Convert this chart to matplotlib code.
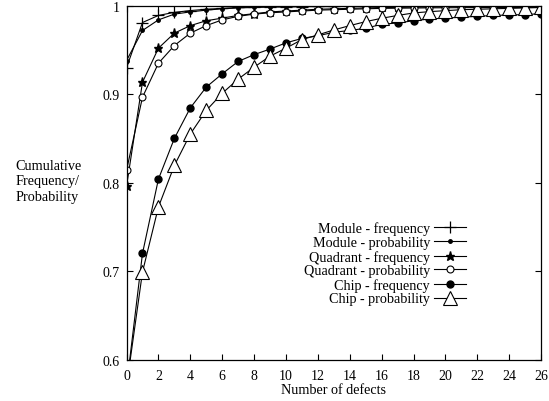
import numpy as np
import matplotlib
matplotlib.use("Agg")
import matplotlib.pyplot as plt

plt.rcParams['font.family'] = ['Liberation Serif', 'DejaVu Serif']

# ---- data ----
defects = list(range(27))

module_freq = [0.930, 0.981, 0.989, 0.9925, 0.9945, 0.996, 0.997, 0.998, 0.9985,
               0.999, 0.999, 0.999, 0.9992, 0.9993, 0.9994, 0.9995, 0.9995, 0.9996,
               0.9996, 0.9997, 0.9997, 0.9998, 0.9998, 0.9998, 0.9999, 0.9999, 0.9999]
module_prob = [0.938, 0.972, 0.984, 0.9905, 0.993, 0.995, 0.9965, 0.9975, 0.998,
               0.9985, 0.9985, 0.999, 0.999, 0.999, 0.9992, 0.9993, 0.9994, 0.9994,
               0.9995, 0.9995, 0.9996, 0.9996, 0.9997, 0.9997, 0.9997, 0.9998, 0.9998]
quad_freq = [0.796, 0.9135, 0.952, 0.969, 0.9775, 0.983, 0.986, 0.989, 0.991,
             0.993, 0.994, 0.995, 0.996, 0.9965, 0.997, 0.9975, 0.998, 0.998,
             0.9985, 0.9985, 0.999, 0.999, 0.999, 0.9992, 0.9993, 0.9994, 0.9995]
quad_prob = [0.814, 0.8966, 0.935, 0.955, 0.969, 0.9775, 0.984, 0.988, 0.9905,
             0.992, 0.993, 0.994, 0.995, 0.9955, 0.996, 0.9965, 0.997, 0.9972,
             0.9974, 0.9976, 0.9977, 0.9978, 0.9979, 0.998, 0.998, 0.998, 0.998]
chip_freq = [0.57, 0.720, 0.804, 0.850, 0.8845, 0.908, 0.923, 0.937, 0.9447,
             0.951, 0.958, 0.963, 0.966, 0.970, 0.972, 0.9745, 0.979, 0.9805,
             0.983, 0.985, 0.986, 0.987, 0.988, 0.989, 0.9895, 0.990, 0.991]
chip_prob = [0.57, 0.699, 0.7725, 0.8194, 0.855, 0.8816, 0.901, 0.917, 0.9305,
             0.943, 0.952, 0.9617, 0.967, 0.9726, 0.9775, 0.982, 0.9858, 0.989,
             0.9918, 0.9933, 0.9944, 0.9955, 0.996, 0.9965, 0.997, 0.9975, 0.998]

labels = ["Module - frequency", "Module - probability", "Quadrant - frequency",
          "Quadrant - probability", "Chip - frequency", "Chip - probability"]
xticks = list(range(0, 27, 2))
yticks = [0.6, 0.7, 0.8, 0.9, 1.0]
yticklabels = ["0.6", "0.7", "0.8", "0.9", "1"]

fig = plt.figure(figsize=(5.49, 4.02), dpi=100)
ax = fig.add_axes([0.2305, 0.103, 0.755, 0.8803])

k = dict(color="black", lw=0.8)
ax.plot(defects, module_freq, marker="+", ms=9, mew=0.9, label=labels[0], **k)
ax.plot(defects, module_prob, marker="o", ms=2.5, label=labels[1], **k)
ax.plot(defects, quad_freq, marker="*", ms=6.5, label=labels[2], **k)
ax.plot(defects, quad_prob, marker="o", ms=5, mfc="white", mew=0.8, label=labels[3], **k)
ax.plot(defects, chip_freq, marker="o", ms=5, label=labels[4], **k)
ax.plot(defects, chip_prob, marker="^", ms=9.5, mfc="white", mew=0.8, label=labels[5], **k)

ax.set_xlim(0, 26)
ax.set_ylim(0.6, 1.0)
ax.set_xticks(xticks)
ax.set_yticks(yticks)
ax.set_yticklabels(yticklabels)
ax.tick_params(direction="in", top=True, right=True, length=4, width=0.8, labelsize=10)
ax.tick_params(axis="x", pad=6.5)
ax.tick_params(axis="y", pad=5)
for s in ax.spines.values():
    s.set_linewidth(0.9)

ax.set_xlabel("Number of defects", fontsize=10.2, labelpad=1)
fig.text(0.089, 0.548, "Cumulative\nFrequency/\nProbability", ha="center", va="center",
         multialignment="left", fontsize=10.3, linespacing=1.25)

ax.legend(loc="upper right", bbox_to_anchor=(0.835, 0.41), frameon=False,
          markerfirst=False, fontsize=10.2, handlelength=2.2, handletextpad=0.3,
          labelspacing=0.05, borderpad=0)

fig.savefig("out.png", dpi=100)
